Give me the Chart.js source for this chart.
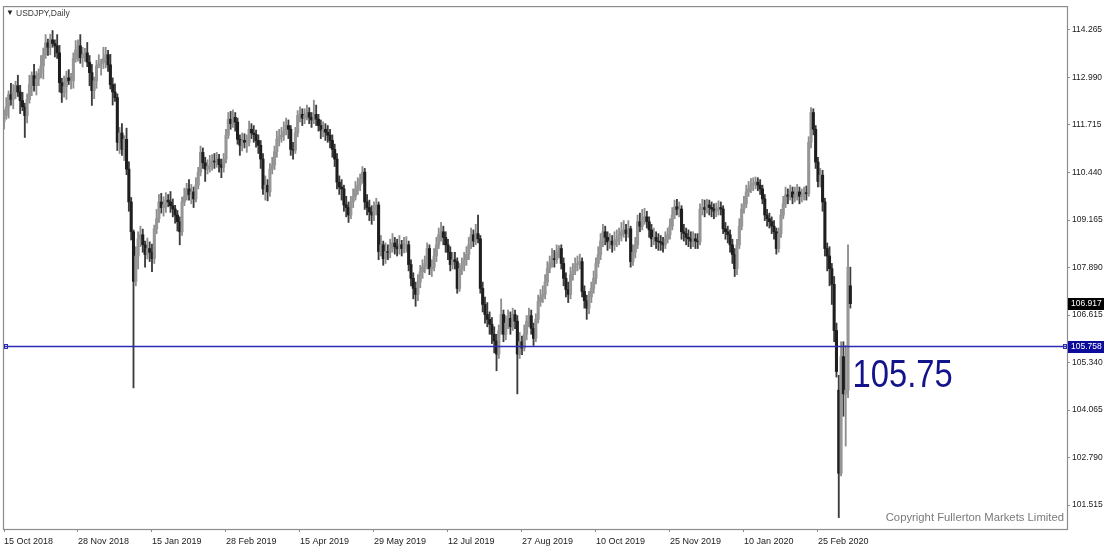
<!DOCTYPE html>
<html><head><meta charset="utf-8">
<script src="https://cdn.jsdelivr.net/npm/chart.js@4.4.1/dist/chart.umd.min.js"></script>
<style>html,body{margin:0;padding:0;background:#fff}#wrap{width:1113px;height:555px;position:relative}</style>
</head><body><div id="wrap"><canvas id="c" width="1113" height="555"></canvas></div>
<script>
// ---- DATA ----
const dateLabels = ['15 Oct 2018','28 Nov 2018','15 Jan 2019','28 Feb 2019','15 Apr 2019','29 May 2019','12 Jul 2019','27 Aug 2019','10 Oct 2019','25 Nov 2019','10 Jan 2020','25 Feb 2020'];
const labelEvery = 32; // bars between date labels
const yTickValues = [101.515,102.790,104.065,105.340,106.615,107.890,109.165,110.440,111.715,112.990,114.265];
const levelValue = 105.758;
const levelText = '105.75';
const lastPrice = 106.917;
const title = 'USDJPY,Daily';
const copyright = 'Copyright Fullerton Markets Limited';

const opens = [
111.80,111.97,112.20,112.53,112.40,112.60,112.77,112.60,112.37,112.20,
111.97,112.40,112.80,113.04,112.77,112.95,113.10,113.30,113.60,113.92,
113.80,114.00,113.90,113.84,113.65,112.85,112.58,112.75,112.98,112.90,
112.90,113.50,113.73,113.84,113.52,113.60,113.65,113.40,113.12,112.64,
112.90,113.30,113.35,113.38,113.50,113.60,113.33,112.80,112.60,112.45,
111.25,111.50,111.06,111.33,110.53,109.65,108.85,107.52,108.20,108.66,
108.77,108.50,108.24,108.40,108.30,108.13,108.93,109.20,109.65,109.50,
109.57,109.70,109.65,109.55,109.46,109.30,109.12,108.85,109.65,109.80,
110.00,109.85,109.92,109.73,110.10,110.45,110.98,110.70,110.53,110.60,
110.64,110.75,110.72,110.80,110.65,110.58,110.80,111.44,111.87,111.75,
111.92,111.79,111.33,111.17,111.30,111.25,111.25,111.60,111.50,111.46,
111.30,111.17,110.80,110.00,110.10,109.92,110.53,110.64,111.00,111.33,
111.40,111.44,111.55,111.70,111.60,111.06,111.04,111.50,111.97,112.00,
111.90,111.97,112.05,111.92,111.85,112.00,111.87,111.70,111.57,111.60,
111.52,111.44,111.30,111.06,110.80,110.18,110.05,110.00,109.57,109.50,
109.30,109.65,109.80,110.00,110.10,110.26,110.45,109.65,109.50,109.38,
109.30,109.45,109.57,108.32,108.50,108.13,108.32,108.30,108.40,108.55,
108.45,108.40,108.50,108.40,108.50,108.50,107.97,107.60,107.33,107.17,
107.50,107.78,107.90,108.00,108.40,107.86,107.90,108.20,108.50,108.77,
108.85,108.70,108.50,108.30,107.97,108.10,108.05,107.33,107.86,107.95,
108.10,108.24,108.50,108.77,108.60,108.80,108.66,107.33,106.90,106.63,
106.50,106.37,106.10,105.92,105.57,106.20,106.63,106.10,106.40,106.53,
106.30,106.63,106.45,105.57,105.90,105.73,106.10,106.45,106.60,106.26,
105.99,106.50,106.98,107.10,107.17,107.50,107.86,108.00,108.13,108.10,
108.30,108.40,108.00,107.60,107.30,107.17,107.70,107.80,107.97,108.00,
108.05,107.25,107.00,106.80,107.10,107.33,107.60,108.00,108.24,108.60,
108.85,108.70,108.58,108.60,108.50,108.60,108.66,108.75,108.85,108.90,
108.80,108.93,108.05,108.30,108.50,109.12,109.00,109.20,109.25,109.12,
108.90,108.66,108.70,108.60,108.58,108.55,108.50,108.65,108.77,109.00,
109.30,109.52,109.45,109.46,108.85,108.80,108.70,108.66,108.60,108.66,
108.60,108.58,109.46,109.50,109.45,109.57,109.50,109.46,109.40,109.43,
109.50,109.46,108.93,108.85,108.77,108.50,108.24,107.86,108.50,109.00,
109.46,109.60,109.92,110.00,110.10,110.15,110.18,110.10,110.00,109.73,
109.30,109.20,109.12,109.00,108.85,108.40,108.80,109.30,109.60,109.84,
109.80,109.92,109.78,109.85,109.92,109.80,109.84,109.90,109.87,111.25,
112.05,111.60,110.72,110.20,110.37,109.65,108.40,108.20,107.86,107.44,
106.20,104.60,102.37,105.50,104.50,104.60,107.40];

const highs = [
112.12,112.45,112.63,112.83,112.80,112.89,113.05,112.78,112.59,112.30,
112.55,113.05,113.14,113.34,113.15,113.22,113.58,113.78,114.14,114.02,
114.15,114.25,114.00,114.14,113.85,112.97,113.03,113.16,113.20,113.10,
113.65,113.98,114.00,114.14,113.80,113.77,113.93,113.58,113.34,113.00,
113.45,113.60,113.48,113.80,113.80,113.72,113.61,112.98,112.82,112.55,
111.65,111.75,111.43,111.63,110.73,109.77,108.90,108.45,108.85,109.00,
108.92,108.60,108.68,108.58,108.52,109.03,109.45,109.85,109.88,109.79,
109.90,109.85,109.93,109.73,109.56,109.42,109.25,109.78,110.02,110.15,
110.25,110.12,110.05,110.30,110.58,111.15,111.10,110.85,110.78,110.90,
110.92,110.95,110.98,110.93,110.80,110.95,111.60,112.05,112.08,112.12,
112.05,111.90,111.45,111.50,111.48,111.45,111.82,111.75,111.70,111.58,
111.45,111.30,110.95,110.35,110.25,110.68,110.85,111.15,111.55,111.60,
111.65,111.80,111.90,111.85,111.70,111.25,111.65,112.10,112.20,112.15,
112.15,112.25,112.18,112.05,112.38,112.25,112.00,111.85,111.80,111.75,
111.70,111.60,111.45,111.20,110.95,110.35,110.25,110.10,109.80,109.65,
109.80,110.00,110.20,110.30,110.40,110.60,110.55,109.85,109.70,109.55,
109.65,109.75,109.65,108.75,108.60,108.55,108.50,108.65,108.80,108.70,
108.65,108.75,108.62,108.70,108.72,108.60,108.10,107.75,107.50,107.70,
107.95,108.10,108.20,108.55,108.50,108.10,108.40,108.70,108.95,109.10,
109.00,108.85,108.65,108.45,108.30,108.30,108.15,108.00,108.15,108.30,
108.45,108.70,108.95,108.90,109.05,109.30,108.75,107.50,107.10,106.95,
106.70,106.55,106.30,106.10,106.35,107.05,106.75,106.60,106.75,106.70,
106.80,106.75,106.60,106.15,106.05,106.35,106.60,106.80,106.75,106.40,
106.65,107.15,107.30,107.40,107.70,108.05,108.20,108.40,108.35,108.50,
108.48,108.50,108.15,107.75,107.50,107.90,108.00,108.15,108.20,108.25,
108.15,107.40,107.15,107.25,107.50,107.80,108.15,108.45,108.80,109.05,
109.00,108.85,108.80,108.75,108.85,108.90,108.95,109.10,109.15,109.05,
109.15,109.00,108.50,108.70,109.30,109.35,109.45,109.48,109.40,109.25,
109.05,108.95,108.85,108.80,108.75,108.70,108.85,108.95,109.20,109.50,
109.70,109.72,109.65,109.55,109.05,108.95,108.90,108.85,108.85,108.80,
108.80,109.60,109.72,109.70,109.72,109.70,109.65,109.60,109.62,109.68,
109.65,109.55,109.10,109.00,108.90,108.65,108.40,108.65,109.20,109.60,
109.80,110.10,110.20,110.28,110.30,110.32,110.30,110.25,110.10,109.85,
109.45,109.35,109.25,109.15,108.95,108.95,109.45,109.80,110.05,110.00,
110.10,110.05,110.05,110.12,110.05,110.00,110.05,110.08,111.40,112.18,
112.15,111.70,110.85,110.55,110.50,109.75,108.55,108.45,108.00,107.65,
106.40,105.00,105.90,105.90,105.80,108.50,107.90];

const lows = [
111.60,111.87,111.90,112.25,112.15,112.42,112.48,112.02,112.10,111.38,
111.77,112.30,112.50,112.62,112.52,112.77,112.98,112.95,113.50,113.58,
113.60,113.80,113.54,113.50,112.60,112.32,112.46,112.40,112.80,112.68,
112.70,113.40,113.43,113.37,113.27,113.42,113.28,112.77,112.24,112.42,
112.70,113.25,113.05,113.23,113.25,113.15,112.68,112.25,112.35,111.03,
110.95,110.90,110.76,110.38,109.40,108.63,104.66,107.40,107.85,108.45,
108.30,107.90,108.12,108.05,107.78,108.00,108.80,109.10,109.35,109.27,
109.37,109.52,109.37,109.25,109.08,108.87,108.50,108.75,109.55,109.70,
109.70,109.60,109.50,109.65,110.00,110.35,110.55,110.20,110.40,110.45,
110.50,110.55,110.58,110.45,110.30,110.45,110.70,111.35,111.60,111.65,
111.55,111.20,110.90,111.02,111.10,110.98,111.15,111.35,111.25,111.12,
110.95,110.55,109.85,109.70,109.68,109.80,110.40,110.52,110.85,111.15,
111.25,111.30,111.45,111.35,110.90,110.80,110.95,111.40,111.80,111.70,
111.75,111.85,111.75,111.65,111.75,111.70,111.55,111.35,111.40,111.30,
111.25,111.10,110.85,110.60,110.00,109.85,109.70,109.40,109.25,109.10,
109.20,109.50,109.70,109.85,109.95,110.15,109.45,109.30,109.15,109.05,
109.15,109.30,108.10,108.20,107.95,108.00,108.10,108.15,108.30,108.25,
108.20,108.25,108.20,108.28,108.30,107.80,107.40,107.05,106.85,107.00,
107.35,107.60,107.75,107.85,107.70,107.65,107.80,108.05,108.40,108.60,
108.50,108.30,108.10,107.80,107.85,107.85,107.20,107.25,107.70,107.80,
107.95,108.10,108.40,108.45,108.50,108.55,107.20,106.70,106.40,106.30,
106.10,105.85,105.60,105.12,105.45,106.10,105.90,105.95,106.25,106.10,
106.20,106.25,104.50,105.45,105.55,105.65,105.95,106.30,106.10,105.80,
105.90,106.40,106.85,106.95,107.05,107.40,107.75,107.90,107.90,108.00,
108.15,107.85,107.40,107.10,106.95,107.05,107.55,107.70,107.80,107.85,
107.10,106.80,106.50,106.65,106.95,107.20,107.45,107.90,108.10,108.45,
108.50,108.35,108.40,108.30,108.35,108.45,108.50,108.60,108.70,108.60,
108.70,107.90,107.95,108.15,108.40,108.85,108.90,109.05,108.95,108.70,
108.45,108.50,108.40,108.35,108.35,108.30,108.40,108.55,108.65,108.90,
109.20,109.30,109.25,108.65,108.60,108.50,108.45,108.40,108.45,108.40,
108.40,108.50,109.30,109.25,109.35,109.30,109.25,109.20,109.25,109.30,
109.30,108.80,108.65,108.55,108.30,108.00,107.65,107.70,108.40,108.90,
109.35,109.50,109.80,109.90,109.95,110.00,109.95,109.85,109.60,109.15,
109.00,108.95,108.80,108.65,108.25,108.30,108.70,109.20,109.50,109.60,
109.70,109.60,109.65,109.70,109.60,109.65,109.70,109.70,109.80,111.10,
111.45,110.55,110.05,110.05,109.40,108.20,107.80,107.40,106.90,105.90,
104.95,101.18,102.30,103.90,103.10,104.40,106.80];

const closes = [
111.97,112.20,112.53,112.40,112.60,112.77,112.60,112.37,112.20,111.97,
112.40,112.80,113.04,112.77,112.95,113.10,113.30,113.60,113.92,113.80,
114.00,113.90,113.84,113.65,112.85,112.58,112.75,112.98,112.90,112.90,
113.50,113.73,113.84,113.52,113.60,113.65,113.40,113.12,112.64,112.90,
113.30,113.35,113.38,113.50,113.60,113.33,112.80,112.60,112.45,111.25,
111.50,111.06,111.33,110.53,109.65,108.85,107.52,108.20,108.66,108.77,
108.50,108.24,108.40,108.30,108.13,108.93,109.20,109.65,109.50,109.57,
109.70,109.65,109.55,109.46,109.30,109.12,108.85,109.65,109.80,110.00,
109.85,109.92,109.73,110.10,110.45,110.98,110.70,110.53,110.60,110.64,
110.75,110.72,110.80,110.65,110.58,110.80,111.44,111.87,111.75,111.92,
111.79,111.33,111.17,111.30,111.25,111.25,111.60,111.50,111.46,111.30,
111.17,110.80,110.00,110.10,109.92,110.53,110.64,111.00,111.33,111.40,
111.44,111.55,111.70,111.60,111.06,111.04,111.50,111.97,112.00,111.90,
111.97,112.05,111.92,111.85,112.00,111.87,111.70,111.57,111.60,111.52,
111.44,111.30,111.06,110.80,110.18,110.05,110.00,109.57,109.50,109.30,
109.65,109.80,110.00,110.10,110.26,110.45,109.65,109.50,109.38,109.30,
109.45,109.57,108.32,108.50,108.13,108.32,108.30,108.40,108.55,108.45,
108.40,108.50,108.40,108.50,108.50,107.97,107.60,107.33,107.17,107.50,
107.78,107.90,108.00,108.40,107.86,107.90,108.20,108.50,108.77,108.85,
108.70,108.50,108.30,107.97,108.10,108.05,107.33,107.86,107.95,108.10,
108.24,108.50,108.77,108.60,108.80,108.66,107.33,106.90,106.63,106.50,
106.37,106.10,105.92,105.57,106.20,106.63,106.10,106.40,106.53,106.30,
106.63,106.45,105.57,105.90,105.73,106.10,106.45,106.60,106.26,105.99,
106.50,106.98,107.10,107.17,107.50,107.86,108.00,108.13,108.10,108.30,
108.40,108.00,107.60,107.30,107.17,107.70,107.80,107.97,108.00,108.05,
107.25,107.00,106.80,107.10,107.33,107.60,108.00,108.24,108.60,108.85,
108.70,108.58,108.60,108.50,108.60,108.66,108.75,108.85,108.90,108.80,
108.93,108.05,108.30,108.50,109.12,109.00,109.20,109.25,109.12,108.90,
108.66,108.70,108.60,108.58,108.55,108.50,108.65,108.77,109.00,109.30,
109.52,109.45,109.46,108.85,108.80,108.70,108.66,108.60,108.66,108.60,
108.58,109.46,109.50,109.45,109.57,109.50,109.46,109.40,109.43,109.50,
109.46,108.93,108.85,108.77,108.50,108.24,107.86,108.50,109.00,109.46,
109.60,109.92,110.00,110.10,110.15,110.18,110.10,110.00,109.73,109.30,
109.20,109.12,109.00,108.85,108.40,108.80,109.30,109.60,109.84,109.80,
109.92,109.78,109.85,109.92,109.80,109.84,109.90,109.87,111.25,112.05,
111.60,110.72,110.20,110.37,109.65,108.40,108.20,107.86,107.44,106.20,
105.10,102.37,105.50,104.50,104.60,107.90,106.92];

// ---- STYLE ----
const FONT = "'Liberation Sans', Arial, sans-serif";
const upBody = '#969696', downBody = '#1e1e1e', wickUp = '#8e8e8e', wickDown = '#3c3c3c';
const frameColor = '#8c8c8c';
const lineBlue = '#2b2bb3', textBlue = '#14148a', boxBlue = '#0c0c9c';

const isUp = closes.map((c, i) => c >= opens[i]);
const bodyData = closes.map((c, i) => ({x: i, y: [opens[i], c]}));
const wickData = closes.map((c, i) => ({x: i, y: [lows[i], highs[i]]}));

const overlay = {
  id: 'overlay',
  afterDraw(chart) {
    const {ctx, chartArea: a, scales: {y}} = chart;
    ctx.save();
    // frame
    ctx.strokeStyle = frameColor; ctx.lineWidth = 1.2;
    ctx.strokeRect(a.left - 0.5, a.top - 0.5, a.right - a.left + 1, a.bottom - a.top + 1);
    // horizontal level line
    const ly = Math.round(y.getPixelForValue(levelValue)) - 0.5;
    ctx.strokeStyle = lineBlue; ctx.lineWidth = 1.4;
    ctx.beginPath(); ctx.moveTo(a.left, ly); ctx.lineTo(a.right, ly); ctx.stroke();
    ctx.lineWidth = 1;
    ctx.strokeRect(a.left + 0.5, ly - 2, 3, 4);
    ctx.strokeRect(a.right - 3.5, ly - 2, 3, 4);
    // big level text
    ctx.save();
    ctx.translate(852.5, 387);
    ctx.scale(0.84, 1);
    ctx.fillStyle = textBlue;
    ctx.font = '39px ' + FONT;
    ctx.textAlign = 'left'; ctx.textBaseline = 'alphabetic';
    ctx.fillText(levelText, 0, 0);
    ctx.restore();
    // axis price boxes
    const box = (val, bg) => {
      const py = y.getPixelForValue(val);
      ctx.fillStyle = bg;
      ctx.fillRect(a.right + 1, Math.round(py) - 6, 36, 12);
      ctx.fillStyle = '#ffffff';
      ctx.font = '8.5px ' + FONT;
      ctx.textAlign = 'left'; ctx.textBaseline = 'middle';
      ctx.fillText(val.toFixed(3), a.right + 4, Math.round(py));
    };
    box(lastPrice, '#000000');
    box(levelValue, boxBlue);
    // title
    ctx.fillStyle = '#222';
    ctx.font = '8px ' + FONT;
    ctx.textBaseline = 'middle'; ctx.textAlign = 'left';
    ctx.fillText('\u25BC', 6, 13);
    ctx.fillStyle = '#3a3a3a';
    ctx.font = '8.5px ' + FONT;
    ctx.fillText(title, 16, 13.5);
    // copyright
    ctx.fillStyle = '#7a7a7a';
    ctx.font = '11.3px ' + FONT;
    ctx.textAlign = 'right'; ctx.textBaseline = 'alphabetic';
    ctx.fillText(copyright, a.right - 3, 521);
    ctx.restore();
  }
};

new Chart(document.getElementById('c'), {
  type: 'bar',
  data: {
    datasets: [
      {data: bodyData, backgroundColor: isUp.map(u => u ? upBody : downBody), barThickness: 2.4, grouped: false, order: 0, borderWidth: 0},
      {data: wickData, backgroundColor: isUp.map(u => u ? wickUp : wickDown), barThickness: 1.2, grouped: false, order: 1, borderWidth: 0}
    ]
  },
  options: {
    responsive: false,
    animation: false,
    layout: {padding: {left: 4, top: 4, right: 0, bottom: 0}},
    plugins: {legend: {display: false}, tooltip: {enabled: false}},
    scales: {
      x: {
        type: 'linear', min: 0, max: 459.7, offset: false,
        afterBuildTicks: s => { s.ticks = dateLabels.map((d, k) => ({value: k * labelEvery})); },
        afterFit: s => { s.height = 26; },
        grid: {drawOnChartArea: false, drawTicks: true, tickLength: 3, tickColor: frameColor, offset: false},
        border: {display: false},
        ticks: {autoSkip: false, maxRotation: 0, minRotation: 0, align: 'start', padding: 4, color: '#1a1a1a',
                font: {family: FONT, size: 9}, callback: (v, idx) => dateLabels[idx]}
      },
      y: {
        position: 'right', min: 100.875, max: 114.878,
        afterBuildTicks: s => { s.ticks = yTickValues.map(v => ({value: v})); },
        afterFit: s => { s.width = 46; },
        grid: {drawOnChartArea: false, drawTicks: true, tickLength: 3, tickColor: frameColor},
        border: {display: false},
        ticks: {padding: 2, color: '#1a1a1a', font: {family: FONT, size: 8.5}, callback: v => Number(v).toFixed(3)}
      }
    }
  },
  plugins: [overlay]
});
</script>
</body></html>
